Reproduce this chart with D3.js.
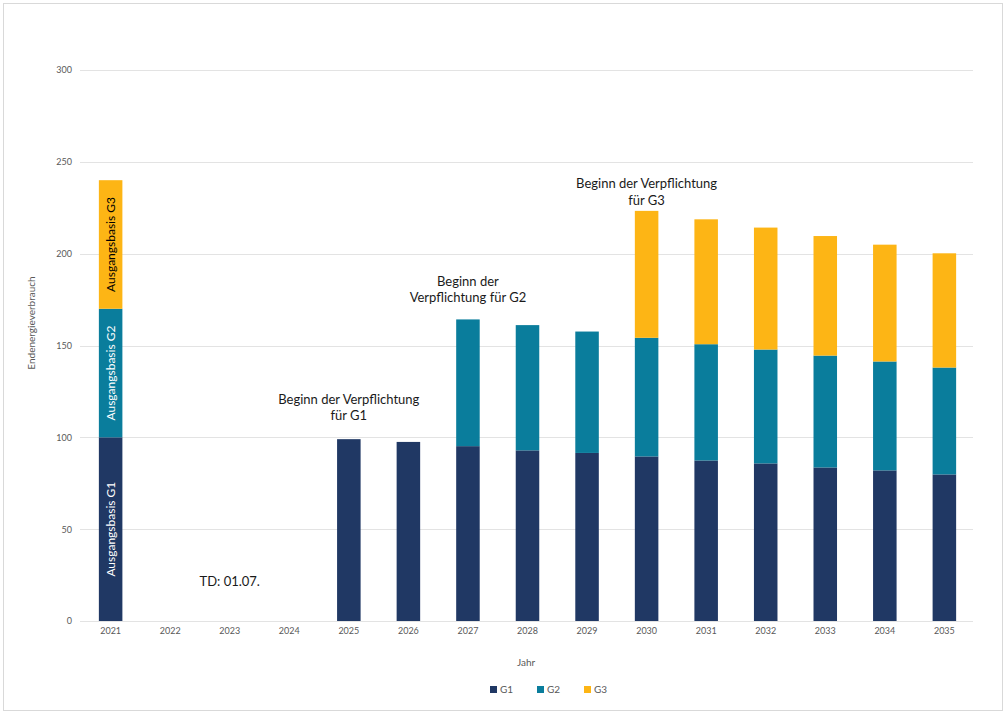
<!DOCTYPE html>
<html><head><meta charset="utf-8">
<script src="https://cdn.jsdelivr.net/npm/d3@7"></script>
<style>
html,body{margin:0;padding:0;background:#fff;}
text{font-family:Lato, "Liberation Sans", sans-serif;}
</style></head>
<body><svg id="c" width="1006" height="718"></svg>
<script>
const years = ["2021","2022","2023","2024","2025","2026","2027","2028","2029","2030","2031","2032","2033","2034","2035"];
const g1 = [100,0,0,0,99,97.5,95.2,92.9,91.5,89.6,87.4,85.8,83.6,82,79.8];
const g2 = [70,0,0,0,0,0,69,68.2,66.1,64.6,63.3,62,60.9,59.3,58.2];
const g3 = [70,0,0,0,0,0,0,0,0,69.1,68,66.4,65.1,63.6,62.2];
const seriesNames = ["G1","G2","G3"];
const colors = ["#203864","#0A7D9C","#FDB515"];
const yTicks = [0,50,100,150,200,250,300];
const baseLabels = ["Ausgangsbasis G1","Ausgangsbasis G2","Ausgangsbasis G3"];
const annotations = [
  {year:"2025", value:118.4, lines:["Beginn der Verpflichtung","für G1"]},
  {year:"2027", value:182.4, lines:["Beginn der","Verpflichtung für G2"]},
  {year:"2030", value:235.7, lines:["Beginn der Verpflichtung","für G3"]}
];

const svg = d3.select("#c");
svg.append("rect").attr("x",3.5).attr("y",3.5).attr("width",999).attr("height",707)
  .attr("fill","#fff").attr("stroke","#d9d9d9").attr("stroke-width",1);

const x = d3.scaleBand().domain(years).range([81,974]).paddingInner(0.605).paddingOuter(0.3);
const y = d3.scaleLinear().domain([0,300]).range([621,70]);

// grid
svg.append("g").selectAll("line").data(yTicks).join("line")
  .attr("x1",80).attr("x2",973).attr("y1",d=>Math.round(y(d))+0.5).attr("y2",d=>Math.round(y(d))+0.5)
  .attr("stroke","#e3e3e3").attr("stroke-width",1);

// y axis labels
const yAxis = d3.axisLeft(y).tickValues(yTicks).tickSize(0).tickPadding(8);
const ya = svg.append("g").attr("transform","translate(80,0)").call(yAxis);
ya.select(".domain").remove();
ya.selectAll("text").attr("fill","#595959").attr("font-size",9).style("font-family","Lato, sans-serif");

// x axis labels
const xAxis = d3.axisBottom(x).tickSize(0).tickPadding(7);
const xa = svg.append("g").attr("transform","translate(0,621)").call(xAxis);
xa.select(".domain").remove();
xa.selectAll("text").attr("fill","#595959").attr("font-size",9).style("font-family","Lato, sans-serif");

// stacked bars
const rows = years.map((yr,i)=>({year:yr,G1:g1[i],G2:g2[i],G3:g3[i]}));
const stack = d3.stack().keys(seriesNames)(rows);
svg.append("g").selectAll("g").data(stack).join("g")
  .attr("fill",(d,i)=>colors[i])
  .selectAll("rect").data(d=>d).join("rect")
  .attr("x",d=>x(d.data.year)).attr("width",x.bandwidth())
  .attr("y",d=>y(d[1])).attr("height",d=>Math.max(0,y(d[0])-y(d[1])));

// labels in 2021 bar
const b0 = stack.map(s=>s[0]);
b0.forEach((seg,i)=>{
  const cx = x("2021")+x.bandwidth()/2;
  const cy = (y(seg[0])+y(seg[1]))/2;
  svg.append("text").attr("transform",`translate(${cx+4},${cy}) rotate(-90)`)
    .attr("text-anchor","middle").attr("font-size",12)
    .attr("fill", i===2 ? "#000" : "#fff").text(baseLabels[i]);
});

// annotations
annotations.forEach(a=>{
  const cx = x(a.year)+x.bandwidth()/2;
  const t = svg.append("text").attr("text-anchor","middle").attr("font-size",13).attr("fill","#1a1a1a");
  a.lines.forEach((l,k)=>{
    t.append("tspan").attr("x",cx).attr("y",y(a.value)+k*16.5).text(l);
  });
});
svg.append("text").attr("x",(x("2023")+x.bandwidth()/2)).attr("y",y(21)+4).attr("text-anchor","middle")
  .attr("font-size",13).attr("fill","#1a1a1a").text("TD: 01.07.");

// axis titles
svg.append("text").attr("transform","translate(35,323) rotate(-90)").attr("text-anchor","middle")
  .attr("font-size",10).attr("fill","#595959").text("Endenergieverbrauch");
svg.append("text").attr("x",526).attr("y",666).attr("text-anchor","middle")
  .attr("font-size",10).attr("fill","#595959").text("Jahr");

// legend
const lg = svg.append("g").attr("transform","translate(490,690)");
seriesNames.forEach((n,i)=>{
  const g = lg.append("g").attr("transform",`translate(${i*47},0)`);
  g.append("rect").attr("x",0).attr("y",-4).attr("width",7).attr("height",7).attr("fill",colors[i]);
  g.append("text").attr("x",10).attr("y",3).attr("font-size",10).attr("fill","#595959").text(n);
});
</script></body></html>
